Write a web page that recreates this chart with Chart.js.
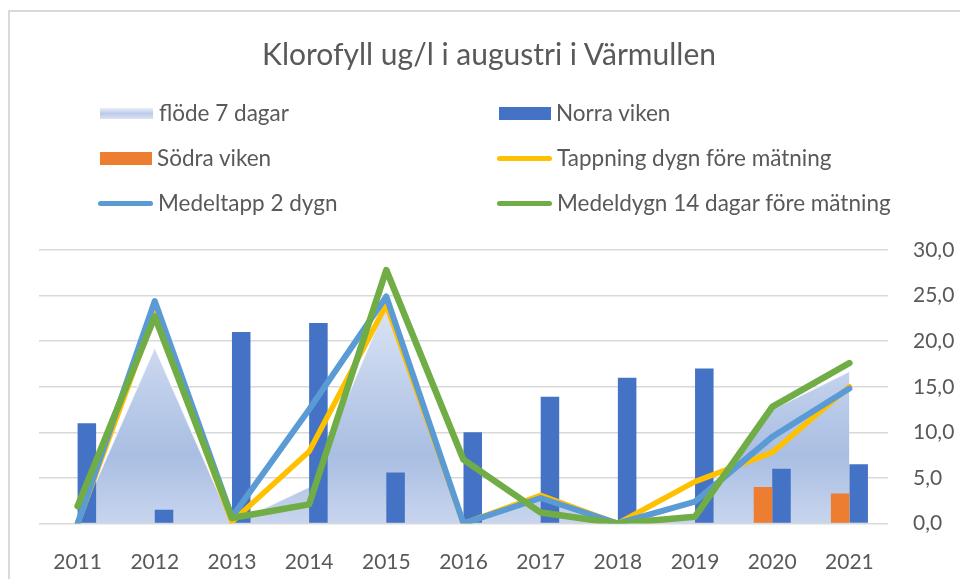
<!DOCTYPE html>
<html>
<head>
<meta charset="utf-8">
<script src="https://cdn.jsdelivr.net/npm/chart.js@4.4.0/dist/chart.umd.min.js"></script>
<style>
  body { margin: 0; width: 960px; height: 579px; overflow: hidden; background: #fff; font-family: Lato, sans-serif; }
  #frame { position: absolute; left: 8px; top: 10px; width: 1000px; height: 1000px; border: 2.5px solid #d9d9d9; }
  #title { position: absolute; left: 0; top: 35px; width: 978px; text-align: center; font-size: 30px; line-height: 36px; color: #595959; }
  #legend { position: absolute; left: 0; top: 0; }
  .item { position: absolute; height: 28px; line-height: 28px; font-size: 22.5px; color: #595959; white-space: nowrap; }
  .sym { position: absolute; top: 50%; }
  #wrap { position: absolute; left: 0; top: 0; }
</style>
</head>
<body>
<div id="frame"></div>
<div id="wrap"><canvas id="chart" width="960" height="579"></canvas></div>
<div id="title">Klorofyll ug/l i augustri i Värmullen</div>
<div id="legend"></div>
<script>
////////////////// data //////////////////
var years = ['2011', '2012', '2013', '2014', '2015', '2016', '2017', '2018', '2019', '2020', '2021'];
var flode7 = [0, 19.3, 0, 4.0, 24.0, 0, 2.8, 0, 0.5, 12.5, 16.7];
var norraViken = [11, 1.5, 21, 22, 5.6, 10, 13.9, 16, 17, 6, 6.5];
var sodraViken = [0, 0, 0, 0, 0, 0, 0, 0, 0, 4.0, 3.3];
var tappning = [0, 23, 0.2, 7.9, 24.0, 0, 3.1, 0, 4.6, 7.8, 15.0];
var medeltapp = [0, 24.4, 0.7, 12.5, 24.9, 0, 2.8, 0, 2.4, 9.5, 14.8];
var medeldygn = [1.9, 22.7, 0.6, 2.1, 27.8, 7.0, 1.2, 0, 0.75, 12.8, 17.6];
var yTicks = [0, 5, 10, 15, 20, 25, 30];

var textColor = '#595959';
var gridColor = '#d9d9d9';

// gradient for the flow area
function areaFill(context) {
    var chart = context.chart;
    var area = chart.chartArea;
    if (!area) return '#b4c7e7';
    var g = chart.ctx.createLinearGradient(0, area.top, 0, area.bottom);
    g.addColorStop(0, '#eef2fa');
    g.addColorStop(0.25, '#d6e0f2');
    g.addColorStop(0.75, '#a9bee3');
    g.addColorStop(1, '#c8d5ee');
    return g;
}

var ctx = document.getElementById('chart').getContext('2d');
var chart = new Chart(ctx, {
    type: 'bar',
    data: {
        labels: years,
        datasets: [
            {
                type: 'line', label: 'Medeldygn 14 dagar före mätning', data: medeldygn,
                borderColor: '#70ad47', borderWidth: 6.5, pointRadius: 0, fill: false,
                borderJoinStyle: 'round', borderCapStyle: 'round', tension: 0, order: 0
            },
            {
                type: 'line', label: 'Medeltapp 2 dygn', data: medeltapp,
                borderColor: '#5b9bd5', borderWidth: 6, pointRadius: 0, fill: false,
                borderJoinStyle: 'round', borderCapStyle: 'round', tension: 0, order: 1
            },
            {
                type: 'line', label: 'Tappning dygn före mätning', data: tappning,
                borderColor: '#ffc000', borderWidth: 5.5, pointRadius: 0, fill: false,
                borderJoinStyle: 'round', borderCapStyle: 'round', tension: 0, order: 2
            },
            {
                label: 'Södra viken', data: sodraViken, backgroundColor: '#ed7d31',
                barPercentage: 1, categoryPercentage: 0.48, order: 3
            },
            {
                label: 'Norra viken', data: norraViken, backgroundColor: '#4472c4',
                barPercentage: 1, categoryPercentage: 0.48, order: 3
            },
            {
                type: 'line', label: 'flöde 7 dagar', data: flode7,
                borderColor: 'rgba(255,255,255,0.7)', borderWidth: 1.5, pointRadius: 0,
                backgroundColor: areaFill, fill: 'origin', tension: 0, order: 5
            }
        ]
    },
    options: {
        responsive: false,
        animation: false,
        layout: { padding: { top: 250, left: 39, right: 0, bottom: 0 } },
        plugins: {
            legend: { display: false },
            title: { display: false },
            tooltip: { enabled: false }
        },
        scales: {
            x: {
                offset: true,
                grid: { display: false },
                border: { display: false },
                ticks: { color: textColor, font: { family: 'Lato', size: 21 }, padding: 18, maxRotation: 0 },
                afterFit: function (s) { s.height = 55.5; }
            },
            y: {
                position: 'right',
                min: 0, max: 30,
                afterBuildTicks: function (s) { s.ticks = yTicks.map(function (v) { return { value: v }; }); },
                grid: { color: gridColor, lineWidth: 1.6, drawTicks: false },
                border: { display: false },
                ticks: {
                    color: textColor, font: { family: 'Lato', size: 21 }, padding: 25,
                    callback: function (v) { return v.toFixed(1).replace('.', ','); }
                },
                afterFit: function (s) { s.width = 72; }
            }
        }
    }
});

////////////////// legend //////////////////
var legendItems = [
    { label: 'flöde 7 dagar', kind: 'area', x: 100, y: 113 },
    { label: 'Norra viken', kind: 'rect', color: '#4472c4', x: 499, y: 113 },
    { label: 'Södra viken', kind: 'rect', color: '#ed7d31', x: 100, y: 158 },
    { label: 'Tappning dygn före mätning', kind: 'line', color: '#ffc000', x: 497, y: 158 },
    { label: 'Medeltapp 2 dygn', kind: 'line', color: '#5b9bd5', x: 98, y: 203 },
    { label: 'Medeldygn 14 dagar före mätning', kind: 'line', color: '#70ad47', x: 497, y: 203 }
];
var legend = document.getElementById('legend');
legendItems.forEach(function (it) {
    var d = document.createElement('div');
    d.className = 'item';
    d.style.left = it.x + 'px';
    d.style.top = (it.y - 14) + 'px';
    var s = document.createElement('span');
    s.className = 'sym';
    if (it.kind === 'line') {
        s.style.width = '55px'; s.style.height = '5px'; s.style.marginTop = '-2.5px';
        s.style.borderRadius = '3px'; s.style.background = it.color;
        d.style.paddingLeft = '60px';
    } else if (it.kind === 'rect') {
        s.style.width = '52px'; s.style.height = '13px'; s.style.marginTop = '-6.5px';
        s.style.background = it.color;
        d.style.paddingLeft = '57px';
    } else {
        s.style.width = '53px'; s.style.height = '11px'; s.style.marginTop = '-5.5px';
        s.style.background = 'linear-gradient(#e9eef8, #bccbea, #dbe3f3)';
        d.style.paddingLeft = '59px';
    }
    s.style.left = '0px';
    d.appendChild(s);
    d.appendChild(document.createTextNode(it.label));
    legend.appendChild(d);
});
</script>
</body>
</html>
